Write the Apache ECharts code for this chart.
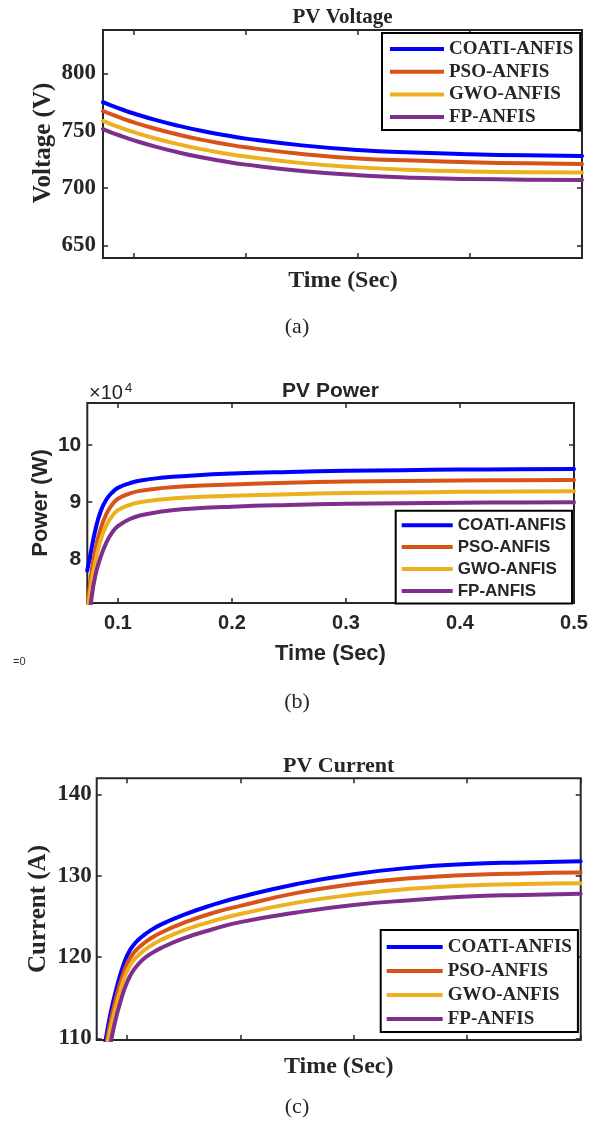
<!DOCTYPE html>
<html><head><meta charset="utf-8">
<script src="https://cdn.jsdelivr.net/npm/echarts@6/dist/echarts.min.js"></script>
<style>html,body{margin:0;padding:0;background:#fff}#c{width:595px;height:1126px}</style>
</head><body><div id="c"></div>
<script>
// ---------- data ----------
const seriesNames = ['COATI-ANFIS', 'PSO-ANFIS', 'GWO-ANFIS', 'FP-ANFIS'];
const seriesColors = ['#0000FF', '#D95319', '#EDB120', '#7E2F8E'];

// (a) PV Voltage (V)
const timeA = [0.0724, 0.08, 0.09, 0.1, 0.12, 0.14, 0.16, 0.18, 0.2, 0.25, 0.3, 0.35, 0.4, 0.45, 0.5];
const voltCOATI = [775, 772, 768.4, 765.1, 759.3, 754.3, 750, 746.4, 743.2, 737.3, 733.3, 731, 729.5, 728.6, 728];
const voltPSO   = [767.3, 764.3, 760.7, 757.4, 751.6, 746.6, 742.3, 738.8, 735.6, 729.8, 725.9, 724, 722.5, 721.6, 721];
const voltGWO   = [758.6, 755.7, 752.1, 748.8, 743.1, 738.2, 734.0, 730.5, 727.5, 721.8, 718.1, 715.8, 714.6, 713.9, 713.6];
const voltFP    = [751.5, 748.5, 745.0, 741.7, 736.0, 731.1, 726.9, 723.5, 720.5, 714.9, 711.3, 709.1, 708.0, 707.4, 707];
const voltTicks = [650, 700, 750, 800];

// (b) PV Power (W)
const timeB = [0.073, 0.076, 0.08, 0.085, 0.09, 0.095, 0.1, 0.11, 0.12, 0.14, 0.16, 0.2, 0.25, 0.3, 0.35, 0.4, 0.45, 0.5];
const powCOATI = [78000, 81000, 85000, 88500, 90500, 91700, 92500, 93300, 93800, 94300, 94600, 95000, 95300, 95500, 95600, 95700, 95750, 95800];
const powPSO   = [70500, 76500, 81500, 85500, 88000, 89600, 90600, 91500, 92000, 92500, 92800, 93100, 93400, 93600, 93700, 93800, 93850, 93900];
const powGWO   = [69500, 75000, 79500, 83500, 86000, 87600, 88600, 89500, 90000, 90500, 90800, 91100, 91400, 91600, 91700, 91800, 91850, 91900];
const powFP    = [67000, 72000, 77000, 80500, 83000, 84700, 85800, 87000, 87700, 88400, 88800, 89200, 89500, 89700, 89800, 89900, 89950, 90000];
const powTicks = [80000, 90000, 100000];

// (c) PV Current (A)
const timeC = [0.08, 0.082, 0.085, 0.088, 0.091, 0.094, 0.097, 0.1, 0.103, 0.106, 0.11, 0.115, 0.12, 0.13, 0.15, 0.175, 0.2, 0.25, 0.3, 0.35, 0.4, 0.45, 0.5];
const curCOATI = [108.5, 110.3, 112.6, 114.5, 116.2, 117.7, 119.0, 120.1, 120.9, 121.5, 122.1, 122.7, 123.2, 124.0, 125.2, 126.4, 127.4, 129.0, 130.2, 131.0, 131.45, 131.65, 131.8];
const curPSO   = [107.5, 109.3, 111.6, 113.5, 115.2, 116.7, 118.0, 119.1, 119.9, 120.5, 121.1, 121.7, 122.2, 123.0, 124.2, 125.4, 126.3, 127.9, 129.0, 129.7, 130.1, 130.3, 130.4];
const curGWO   = [106.8, 108.5, 110.7, 112.5, 114.2, 115.7, 117.1, 118.2, 119.0, 119.6, 120.2, 120.8, 121.3, 122.1, 123.3, 124.4, 125.3, 126.7, 127.7, 128.4, 128.8, 129.0, 129.1];
const curFP    = [105.0, 106.5, 108.8, 111.0, 112.8, 114.3, 115.7, 116.8, 117.7, 118.4, 119.1, 119.8, 120.3, 121.1, 122.3, 123.4, 124.3, 125.5, 126.4, 127.0, 127.45, 127.65, 127.8];
const curTicks = [110, 120, 130, 140];

const timeTicks = [0.1, 0.2, 0.3, 0.4, 0.5];

// ---------- styling / layout ----------
const SERIF = '"Liberation Serif","Times New Roman",serif';
const SANS = '"Liberation Sans",Arial,sans-serif';
const AX = '#262626';

const panels = [
  { grid: {left: 103, top: 30, width: 479, height: 228}, x: [0.0724, 0.5], y: [639, 838],
    yTicks: voltTicks, time: timeA, vals: [voltCOATI, voltPSO, voltGWO, voltFP],
    font: SERIF, yFs: 23, xLabels: false, yMargin: 7, yFmt: v => String(v),
    legend: {left: 382, top: 33, itemWidth: 54, fs: 19, lh: 20, gap: 2.7, padding: [6, 7, 3, 8]} },
  { grid: {left: 87.3, top: 403, width: 486.7, height: 200}, x: [0.0731, 0.5], y: [72330, 107370],
    yTicks: powTicks, time: timeB, vals: [powCOATI, powPSO, powGWO, powFP],
    font: SANS, yFs: 21, xLabels: true, yMargin: 6, yFmt: v => String(v / 1e4),
    legend: {left: 395.7, top: 510.7, itemWidth: 51, fs: 17, lh: 19, gap: 2.9, padding: [5, 6, 3, 6]} },
  { grid: {left: 96.7, top: 778.3, width: 484, height: 261.7}, x: [0.0735, 0.5], y: [109.8, 142],
    yTicks: curTicks, time: timeC, vals: [curCOATI, curPSO, curGWO, curFP],
    font: SERIF, yFs: 23, xLabels: false, yMargin: 5, yFmt: v => String(v),
    legend: {left: 380.7, top: 930, itemWidth: 56, fs: 19, lh: 20, gap: 4, padding: [7, 6, 3, 6]} }
];

const grids = [], xAxes = [], yAxes = [], series = [], legends = [];
const tickStyle = {inside: true, length: 5, lineStyle: {color: AX, width: 1.5}};

panels.forEach((p, gi) => {
  grids.push(Object.assign({show: true, borderColor: AX, borderWidth: 2, backgroundColor: 'transparent',
    containLabel: false, outerBoundsMode: 'none'}, p.grid));
  xAxes.push({gridIndex: gi, type: 'value', position: 'bottom', min: p.x[0], max: p.x[1],
    axisLine: {show: false}, splitLine: {show: false},
    axisTick: Object.assign({customValues: timeTicks}, tickStyle),
    axisLabel: {show: p.xLabels, customValues: timeTicks, margin: 10, color: AX,
      fontFamily: p.font, fontWeight: 'bold', fontSize: 20, formatter: v => v.toFixed(1)}});
  xAxes.push({gridIndex: gi, type: 'value', position: 'top', min: p.x[0], max: p.x[1],
    axisLine: {show: false}, splitLine: {show: false}, axisLabel: {show: false},
    axisTick: Object.assign({customValues: timeTicks}, tickStyle)});
  yAxes.push({gridIndex: gi, type: 'value', position: 'left', min: p.y[0], max: p.y[1],
    axisLine: {show: false}, splitLine: {show: false},
    axisTick: Object.assign({customValues: p.yTicks}, tickStyle),
    axisLabel: {customValues: p.yTicks, margin: p.yMargin, color: AX, fontFamily: p.font,
      fontWeight: 'bold', fontSize: p.yFs, formatter: p.yFmt}});
  yAxes.push({gridIndex: gi, type: 'value', position: 'right', min: p.y[0], max: p.y[1],
    axisLine: {show: false}, splitLine: {show: false}, axisLabel: {show: false},
    axisTick: Object.assign({customValues: p.yTicks}, tickStyle)});

  p.vals.forEach((vals, si) => {
    series.push({
      type: 'line', name: seriesNames[si], xAxisIndex: gi * 2, yAxisIndex: gi * 2,
      data: p.time.map((t, k) => [t, vals[k]]),
      showSymbol: false, symbol: 'none', smooth: true, clip: true,
      color: seriesColors[si],
      lineStyle: {color: seriesColors[si], width: 4, cap: 'round', join: 'round'},
      itemStyle: {color: seriesColors[si]},
      animation: false, silent: true, z: 2
    });
  });

  const L = p.legend;
  legends.push({
    orient: 'vertical', left: L.left, top: L.top, data: seriesNames,
    icon: 'rect', itemWidth: L.itemWidth, itemHeight: 4, itemGap: L.gap,
    padding: L.padding, borderColor: '#000', borderWidth: 2, backgroundColor: '#fff',
    selectedMode: false, z: 10,
    textStyle: {fontFamily: p.font, fontWeight: 'bold', fontSize: L.fs, lineHeight: L.lh, color: AX}
  });
});

function txt(x, y, text, font, opts) {
  return Object.assign({type: 'text', x: x, y: y, z: 20, silent: true,
    style: {text: text, font: font, fill: AX, align: 'center', verticalAlign: 'middle'}}, opts || {});
}

const graphics = [
  txt(342.5, 18, 'PV Voltage', 'bold 21px ' + SERIF),
  txt(44, 143, 'Voltage (V)', 'bold 25px ' + SERIF, {rotation: Math.PI / 2}),
  txt(343, 281, 'Time (Sec)', 'bold 24px ' + SERIF),
  txt(297, 327, '(a)', '22px ' + SERIF),
  txt(330.5, 391, 'PV Power', 'bold 21px ' + SANS),
  {type: 'text', x: 89, y: 393.5, z: 20, silent: true, style: {text: '\u00d710', font: '20px ' + SANS, fill: AX, align: 'left', verticalAlign: 'middle'}},
  {type: 'text', x: 125, y: 388, z: 20, silent: true, style: {text: '4', font: '13px ' + SANS, fill: AX, align: 'left', verticalAlign: 'middle'}},
  txt(41, 503, 'Power (W)', 'bold 22px ' + SANS, {rotation: Math.PI / 2}),
  txt(330.5, 654, 'Time (Sec)', 'bold 22px ' + SANS),
  {type: 'text', x: 13, y: 662, z: 20, silent: true, style: {text: '=0', font: '11px ' + SANS, fill: '#333', align: 'left', verticalAlign: 'middle'}},
  txt(297, 702, '(b)', '22px ' + SERIF),
  txt(338.7, 766, 'PV Current', 'bold 22px ' + SERIF),
  txt(38.5, 909, 'Current (A)', 'bold 25px ' + SERIF, {rotation: Math.PI / 2}),
  txt(338.7, 1067, 'Time (Sec)', 'bold 24px ' + SERIF),
  txt(297, 1107, '(c)', '22px ' + SERIF)
];

const chart = echarts.init(document.getElementById('c'), null, {renderer: 'canvas'});
chart.setOption({
  animation: false,
  backgroundColor: '#fff',
  grid: grids, xAxis: xAxes, yAxis: yAxes, series: series, legend: legends,
  graphic: graphics
});
</script></body></html>
